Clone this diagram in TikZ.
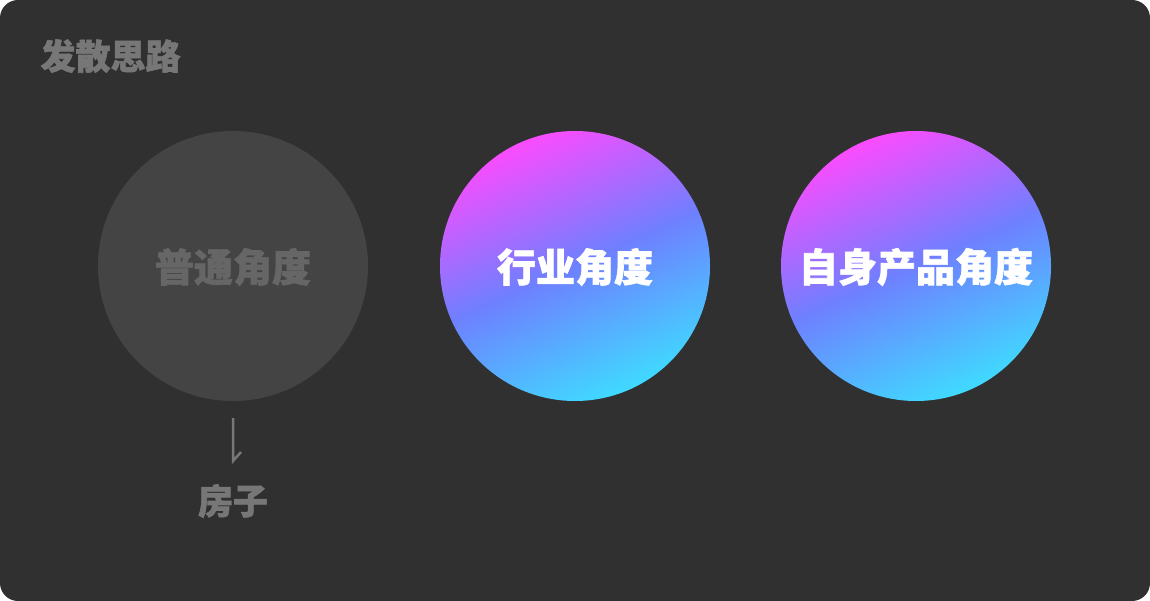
\documentclass[tikz,border=0pt]{standalone}
\usepackage{fontspec}
\newfontfamily\cjk{Noto Sans CJK SC}[BoldFeatures={FakeBold=1.6}]
\definecolor{bg}{HTML}{303030}
\definecolor{greycirc}{HTML}{444444}
\definecolor{greytext}{HTML}{777777}
\definecolor{greyin}{HTML}{666666}
\definecolor{gmag}{HTML}{FF4AFF}
\definecolor{gmid}{HTML}{6E80FF}
\definecolor{gcyan}{HTML}{3EDDFF}
\pgfdeclareverticalshading{bubble}{100bp}{color(0bp)=(gcyan); color(24bp)=(gcyan); color(50bp)=(gmid); color(76bp)=(gmag); color(100bp)=(gmag)}
\tikzset{
  circ/.style={circle, minimum size=270pt, inner sep=0pt},
  grad/.style={circ, shading=bubble, shading angle=24},
  label/.style={font=\cjk\bfseries\fontsize{39}{39}\selectfont, text=white},
}
\begin{document}
\begin{tikzpicture}[x=1pt,y=-1pt]
\useasboundingbox (0,0) rectangle (1150,601);
\fill[white] (0,0) rectangle (1150,601);
\fill[bg, rounded corners=18pt] (0,0) rectangle (1150,601);
\node[anchor=west, font=\cjk\bfseries\fontsize{35}{35}\selectfont, text=greytext] (title) at (37,56) {发散思路};
\node[circ, fill=greycirc] (c1) at (233,266) {};
\node[label, text=greyin] (t1) at (233,267) {普通角度};
\node[grad] (c2) at (575,266) {};
\node[label] (t2) at (575,267) {行业角度};
\node[grad] (c3) at (916,266) {};
\node[label] (t3) at (916,267) {自身产品角度};
\node[font=\cjk\bfseries\fontsize{35}{35}\selectfont, text=greytext] (house) at (233,501) {房子};
\coordinate (a1) at (233,418);
\coordinate (a2) at (233,461);
\coordinate (a3) at (241,452);
\draw[greytext, line width=2.5pt, line join=miter] (a1) -- (a2) -- (a3);
\end{tikzpicture}
\end{document}
